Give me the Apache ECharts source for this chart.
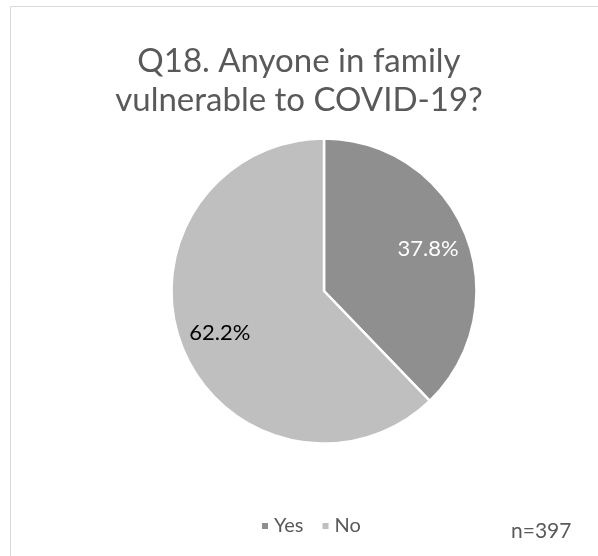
<!DOCTYPE html>
<html>
<head>
<meta charset="utf-8">
<script src="https://cdn.jsdelivr.net/npm/echarts@6/dist/echarts.min.js"></script>
<style>
  html, body { margin: 0; padding: 0; background: #ffffff; }
  #chart { width: 598px; height: 556px; }
</style>
</head>
<body>
<div id="chart"></div>
<script>
// Survey answers: share of respondents
const categories = ['Yes', 'No'];
const shares = [37.8, 62.2];
const sliceColors = ['#8f8f8f', '#bfbfbf'];
const labelColors = ['#ffffff', '#000000'];
const titleText = 'Q18. Anyone in family\nvulnerable to COVID-19?';
const sampleNote = 'n=397';

const FONT = 'Lato, "Open Sans", sans-serif';
const center = [324, 291];
const outerR = 152.5;

const pieData = categories.map((name, i) => ({
  name: name,
  value: shares[i],
  itemStyle: { color: sliceColors[i] },
  label: { color: labelColors[i] }
}));

const chart = echarts.init(document.getElementById('chart'), null, { renderer: 'canvas' });
chart.setOption({
  backgroundColor: '#ffffff',
  animation: false,
  title: {
    text: titleText,
    left: 'center',
    top: 37,
    // extra left padding nudges the centred title to the middle of the framed area
    padding: [5, 0, 5, 24],
    textStyle: {
      fontFamily: FONT,
      fontSize: 33,
      fontWeight: 'normal',
      color: '#595959',
      lineHeight: 39
    }
  },
  legend: {
    data: categories,
    left: 255,
    top: 511,
    icon: 'rect',
    itemWidth: 8,
    itemHeight: 8,
    itemGap: 17,
    textStyle: { fontFamily: FONT, fontSize: 20, color: '#595959', padding: [0, 0, 0, 0] }
  },
  graphic: [
    {
      type: 'rect',
      silent: true,
      shape: { x: 10.5, y: 6.5, width: 600, height: 560 },
      style: { fill: 'none', stroke: '#d9d9d9', lineWidth: 1 }
    },
    {
      type: 'text',
      left: 511,
      top: 521,
      style: { text: sampleNote, fontFamily: FONT, fontSize: 21, fill: '#595959' }
    }
  ],
  series: [
    {
      type: 'pie',
      center: center,
      radius: [0, outerR],
      startAngle: 90,
      clockwise: true,
      label: { show: false },
      labelLine: { show: false },
      itemStyle: { borderColor: '#ffffff', borderWidth: 2.5 },
      data: pieData
    },
    {
      // transparent ring used only to place the percentage labels
      type: 'pie',
      silent: true,
      center: center,
      radius: [66, outerR],
      startAngle: 90,
      clockwise: true,
      itemStyle: { color: 'rgba(0,0,0,0)', borderWidth: 0 },
      labelLine: { show: false },
      label: {
        show: true,
        position: 'inside',
        fontFamily: FONT,
        fontSize: 22,
        formatter: p => p.value.toFixed(1) + '%'
      },
      data: pieData.map(d => ({ name: d.name, value: d.value, label: d.label }))
    }
  ]
});
</script>
</body>
</html>
